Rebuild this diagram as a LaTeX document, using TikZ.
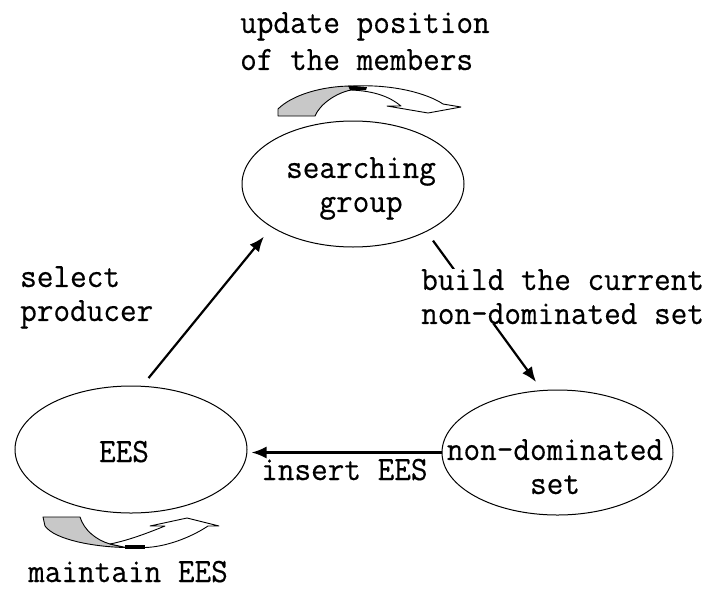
\documentclass[tikz,border=0pt]{standalone}
\usepackage{fontspec}
\newfontfamily\dfont[FakeStretch=0.95,FakeBold=0.4]{Latin Modern Mono}
\usetikzlibrary{shapes.geometric,arrows.meta}
\definecolor{bandgray}{HTML}{C8C8C8}
\begin{document}
\begin{tikzpicture}[x=1pt,y=-1pt,
  ellbox/.style={draw, line width=1pt, ellipse, inner sep=0pt},
  txt/.style={font={\dfont\fontsize{34}{34}\selectfont}, inner sep=0pt},
  conn/.style={line width=2.2pt, -{Latex[length=15pt,width=12pt]}},
  band/.style={draw, line width=0.9pt, line join=round, fill=bandgray},
  warrow/.style={draw, line width=0.9pt, line join=round, fill=white},
]
\fill[white] (0,0) rectangle (717,592);
\useasboundingbox (0,0) rectangle (717,592);

% ellipses
\node[ellbox, minimum width=222pt, minimum height=126pt] (sg) at (353,184) {};
\node[ellbox, minimum width=232pt, minimum height=127pt] (ees) at (131,449.5) {};
\node[ellbox, minimum width=231pt, minimum height=125pt] (nd) at (557.5,452.5) {};

% ellipse texts
\node[txt, align=center, anchor=north] (sgt) at (361,157) {searching\\group};
\node[txt, anchor=base] (eest) at (124,462) {EES};
\node[txt, align=center, anchor=north] (ndt) at (555,439) {non-dominated\\set};

% connectors
\draw[conn, shorten <=10pt, shorten >=12pt] (ees.80) -- (sg.208);
\draw[conn, shorten <=11pt, shorten >=10pt] (sg.-33) -- (nd.104);
\draw[conn, shorten >=4pt] (nd.west) -- (nd.west -| ees.east);

% labels
\node[txt, align=left, anchor=north west] (sel) at (20,266) {select\\producer};
\node[txt, align=left, anchor=north west, fill=white] (bld) at (421,269) {build the current\\non-dominated set};
\node[txt, anchor=base west] (ins) at (261,480) {insert EES};
\node[txt, align=left, anchor=north west] (upd) at (240,12) {update position\\[3pt]of the members};
\node[txt, anchor=base west] (mnt) at (28,582) {maintain EES};

% top curved arrow (update position)
\filldraw[band] (278,116) -- (278,109) .. controls (292,95) and (322,86) .. (352,86)
  -- (351,90) .. controls (336,93) and (320,104) .. (315,116) -- cycle;
\filldraw[warrow] (352,86) .. controls (395,84) and (428,94) .. (443,104)
  -- (461,107) -- (428,113) -- (387,106) -- (401,106)
  .. controls (390,97) and (375,91) .. (351,90) -- cycle;
\fill (348,85.5) -- (367,87) -- (366,90) -- (350,90) -- cycle;

% bottom curved arrow (maintain EES)
\filldraw[band] (43,517) -- (80,517) .. controls (84,530) and (96,540) .. (110,544)
  -- (126,547.5) .. controls (95,547) and (55,540) .. (45,526) -- cycle;
\filldraw[warrow] (110,544) .. controls (130,540) and (150,532) .. (165,526)
  -- (150,526) -- (187,518) -- (219,526) -- (208,526)
  .. controls (190,538) and (165,547) .. (145,547.5) -- (126,547.5) -- cycle;
\fill (125,545) -- (145,545) -- (145,548.5) -- (125,548.5) -- cycle;
\end{tikzpicture}
\end{document}
